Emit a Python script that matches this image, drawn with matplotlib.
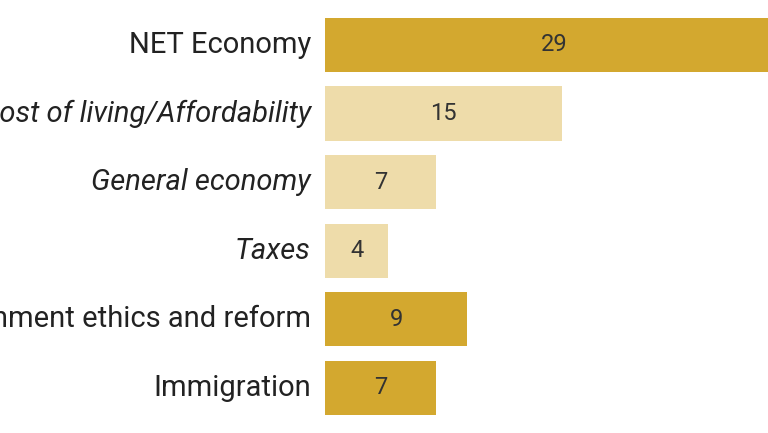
import matplotlib
matplotlib.use("Agg")
import matplotlib.pyplot as plt

categories = ["NET Economy", "Cost of living/Affordability", "General economy", "Taxes",
              "Government ethics and reform", "Immigration"]
values = [29, 15, 7, 4, 9, 7]
italic = [False, True, True, True, False, False]
dark, light = "#D3A82F", "#EEDCAA"
colors = [dark, light, light, light, dark, dark]

plt.rcParams['font.family'] = ['Roboto', 'DejaVu Sans']
fig = plt.figure(figsize=(7.68, 4.33), dpi=100)
ax = fig.add_axes([325/768, 1 - 422/433, 1 - 325/768, (422 - 10.7)/433])
y = list(range(len(categories)))
ax.barh(y, values, height=0.79, color=colors)
ax.set_ylim(len(categories) - 0.5, -0.5)
ax.set_xlim(0, 28.04)
for i, (v, c, it) in enumerate(zip(values, categories, italic)):
    ax.text(v / 2 if v < 28 else 14.5, i, str(v), ha='center', va='center', fontsize=17, color='#333333')
    ax.text(-0.9, i, c, ha='right', va='center', fontsize=21, style='italic' if it else 'normal', color='#222222')
ax.axis('off')
fig.savefig("out.png", dpi=100)
